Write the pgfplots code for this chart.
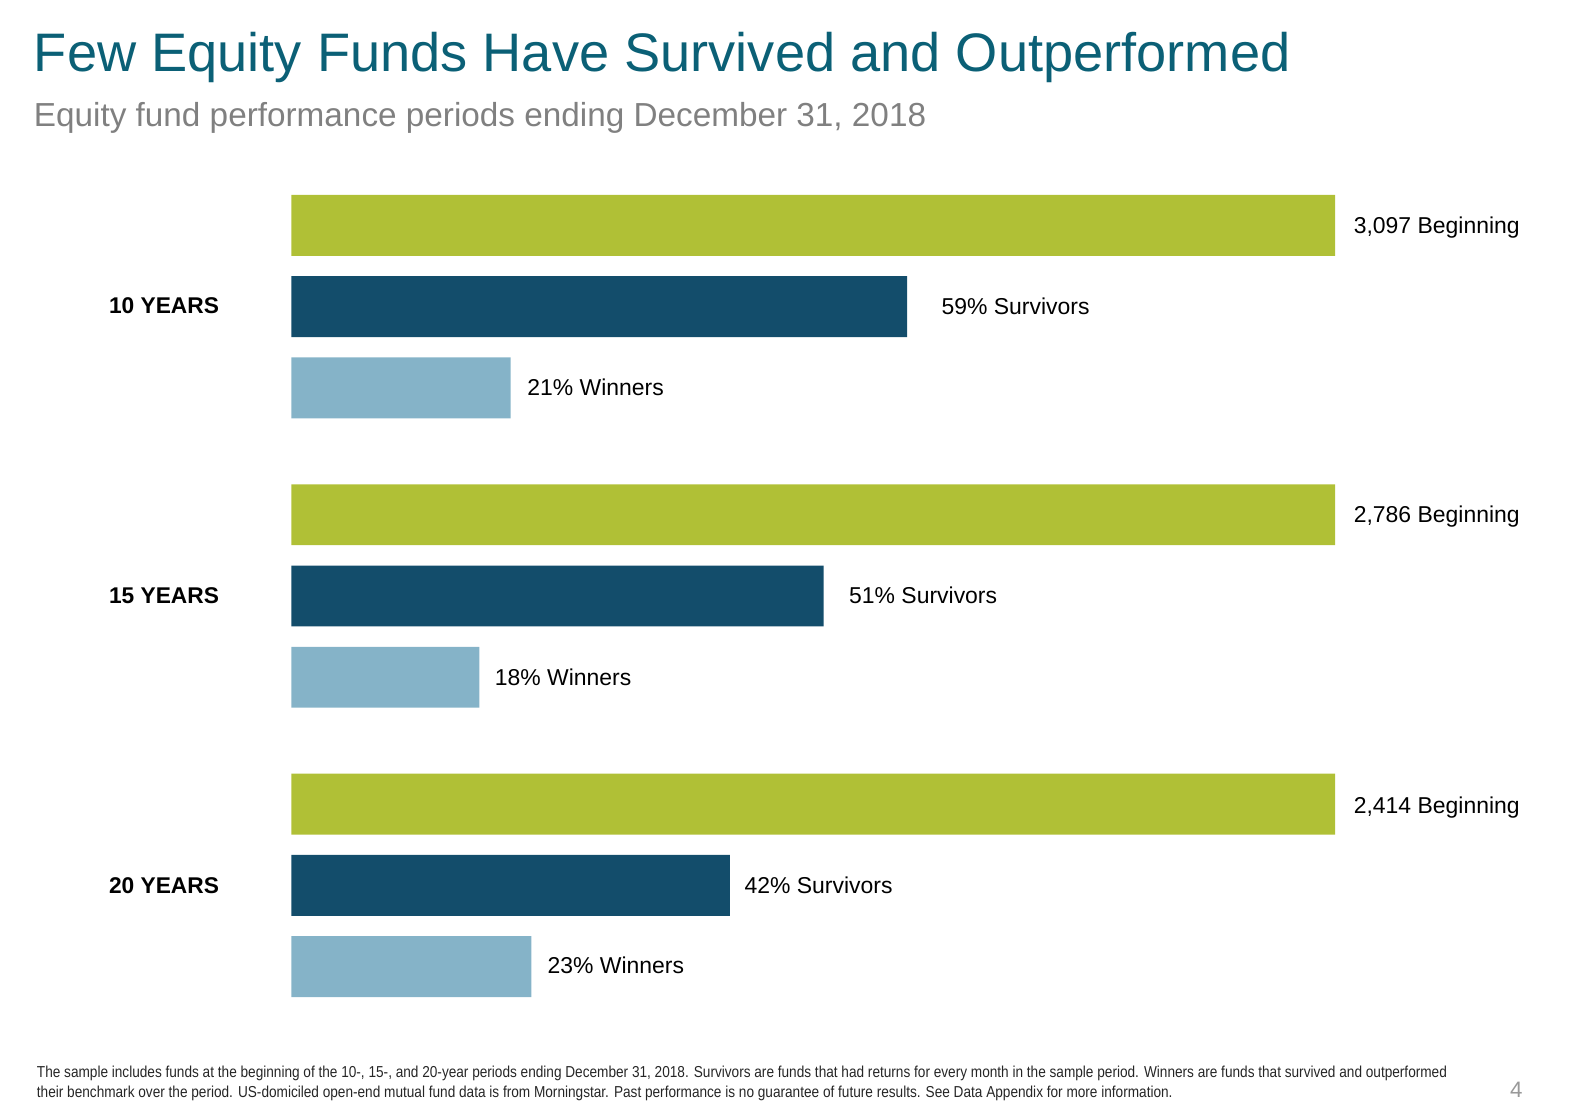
\documentclass[border=0pt]{standalone}
\usepackage{fontspec}
\setmainfont{Liberation Sans}
\newfontfamily\narrowfont[FakeStretch=0.86]{Liberation Sans}
\usepackage{pgfplots}
\pgfplotsset{compat=1.18}
\definecolor{cgreen}{HTML}{B0C036}
\definecolor{cdark}{HTML}{134D6B}
\definecolor{clight}{HTML}{85B3C8}
\definecolor{ctitle}{HTML}{0B6076}
\definecolor{csub}{HTML}{808080}
\begin{document}
\begin{tikzpicture}
\path[use as bounding box] (0,0) rectangle (784pt,-551pt);
\begin{axis}[
  at={(143.5pt,-96pt)}, anchor=north west,
  scale only axis, width=514pt, height=395pt,
  xmin=0, xmax=100, ymin=192, ymax=982, y dir=reverse,
  hide axis, xbar, bar width=60, bar shift=0pt, clip=false,
]
\addplot[draw=none, fill=cgreen] coordinates {(100,222) (100,507) (100,792)};
\addplot[draw=none, fill=cdark] coordinates {(59,302) (51,587) (42,872)};
\addplot[draw=none, fill=clight] coordinates {(21,382) (18,667) (23,952)};
\end{axis}
\begin{scope}[x=0.5pt, y=-0.5pt]
\node[anchor=base west, inner sep=0pt, text=ctitle, font=\fontsize{26.7pt}{30pt}\selectfont] at (33,70) {Few Equity Funds Have Survived and Outperformed};
\node[anchor=base west, inner sep=0pt, text=csub, font=\fontsize{16.4pt}{20pt}\selectfont] at (33,125) {Equity fund performance periods ending December 31, 2018};
\begin{scope}[every node/.style={anchor=base west, inner sep=0pt, font=\fontsize{11.3pt}{13pt}\selectfont}]
\node at (1333,230) {3,097 Beginning};
\node at (927,310) {59\% Survivors};
\node at (519,390) {21\% Winners};
\node at (1333,515) {2,786 Beginning};
\node at (836,594) {51\% Survivors};
\node at (487,675) {18\% Winners};
\node at (1333,801) {2,414 Beginning};
\node at (733,880) {42\% Survivors};
\node at (539,959) {23\% Winners};
\node[font=\fontsize{11.2pt}{13pt}\selectfont\bfseries] at (107,309) {10 YEARS};
\node[font=\fontsize{11.2pt}{13pt}\selectfont\bfseries] at (107,594) {15 YEARS};
\node[font=\fontsize{11.2pt}{13pt}\selectfont\bfseries] at (107,880) {20 YEARS};
\end{scope}
\node[anchor=base west, inner sep=0pt, font=\narrowfont\fontsize{7.8pt}{9pt}\selectfont, text=black!85] at (36,1061) {The sample includes funds at the beginning of the 10-, 15-, and 20-year periods ending December 31, 2018. Survivors are funds that had returns for every month in the sample period. Winners are funds that survived and outperformed};
\node[anchor=base west, inner sep=0pt, font=\narrowfont\fontsize{7.8pt}{9pt}\selectfont, text=black!85] at (36,1081) {their benchmark over the period. US-domiciled open-end mutual fund data is from Morningstar. Past performance is no guarantee of future results. See Data Appendix for more information.};
\node[anchor=base west, inner sep=0pt, font=\fontsize{11pt}{13pt}\selectfont, text=black!40] at (1487,1081) {4};
\end{scope}
\end{tikzpicture}
\end{document}
